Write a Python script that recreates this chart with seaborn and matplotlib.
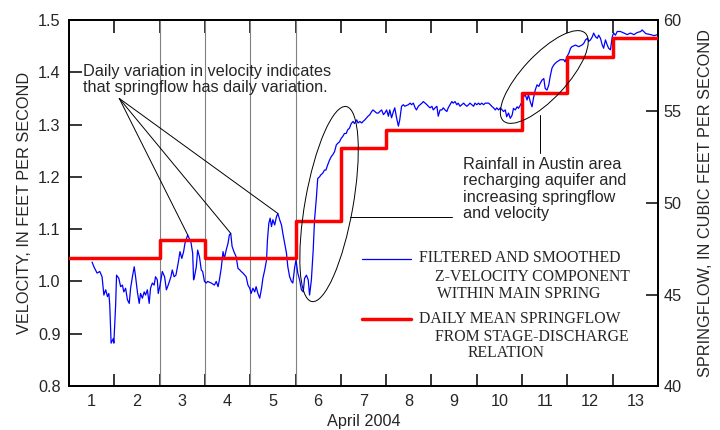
import numpy as np
import pandas as pd
import seaborn as sns
import matplotlib
matplotlib.use("Agg")
import matplotlib.pyplot as plt
from matplotlib.patches import Ellipse
from matplotlib.transforms import ScaledTranslation
from matplotlib.ticker import FormatStrFormatter, FixedLocator

# Data

# filtered z-velocity, day of April 2004 (decimal) and feet per second
vel_day = [
    1.01, 1.05, 1.12, 1.18, 1.23, 1.27, 1.31, 1.35, 1.38, 1.40, 1.43, 1.48, 1.49, 1.53, 1.55,
    1.60, 1.64, 1.68, 1.71, 1.75, 1.79, 1.83, 1.86, 1.90, 1.94, 1.97, 2.01, 2.05, 2.08, 2.12,
    2.16, 2.19, 2.23, 2.27, 2.30, 2.34, 2.38, 2.41, 2.45, 2.47, 2.51, 2.56, 2.61, 2.65, 2.69,
    2.75, 2.78, 2.82, 2.86, 2.91, 2.95, 2.99, 3.03, 3.06, 3.12, 3.15, 3.19, 3.23, 3.25, 3.27,
    3.31, 3.34, 3.38, 3.42, 3.45, 3.49, 3.53, 3.56, 3.64, 3.71, 3.75, 3.79, 3.82, 3.86, 3.90,
    3.93, 3.97, 4.01, 4.04, 4.07, 4.10, 4.14, 4.19, 4.23, 4.27, 4.30, 4.34, 4.38, 4.41, 4.45,
    4.49, 4.52, 4.56, 4.60, 4.63, 4.67, 4.71, 4.75, 4.78, 4.82, 4.86, 4.88, 4.91, 4.94, 4.97,
    5.00, 5.04, 5.08, 5.11, 5.15, 5.19, 5.22, 5.26, 5.30, 5.33, 5.37, 5.41, 5.44, 5.48, 5.51,
    5.55, 5.59, 5.63, 5.67, 5.70, 5.74, 5.78, 5.81, 5.85, 5.89, 5.92, 5.96, 5.99, 6.03, 6.06,
    6.10, 6.14, 6.17, 6.21, 6.25, 6.29, 6.32, 6.36, 6.40, 6.43, 6.47, 6.51, 6.54, 6.58, 6.62,
    6.65, 6.69, 6.73, 6.77, 6.80, 6.85, 6.88, 6.92, 6.96, 6.99, 7.03, 7.07, 7.10, 7.14, 7.18,
    7.21, 7.25, 7.29, 7.33, 7.36, 7.40, 7.44, 7.47, 7.51, 7.55, 7.58, 7.62, 7.66, 7.69, 7.73,
    7.77, 7.80, 7.84, 7.88, 7.91, 7.99, 8.03, 8.06, 8.10, 8.14, 8.17, 8.21, 8.25, 8.29, 8.32,
    8.36, 8.40, 8.43, 8.47, 8.51, 8.54, 8.58, 8.62, 8.65, 8.69, 8.73, 8.76, 8.80, 8.84, 8.87,
    8.91, 8.95, 8.98, 9.02, 9.06, 9.09, 9.13, 9.17, 9.21, 9.24, 9.28, 9.32, 9.35, 9.39, 9.43,
    9.46, 9.50, 9.54, 9.57, 9.61, 9.65, 9.69, 9.76, 9.80, 9.83, 9.87, 9.91, 9.94, 9.98, 10.02,
    10.06, 10.09, 10.13, 10.16, 10.20, 10.24, 10.28, 10.31, 10.35, 10.39, 10.42, 10.46, 10.50, 10.53, 10.57,
    10.61, 10.64, 10.68, 10.72, 10.75, 10.79, 10.83, 10.87, 10.90, 10.94, 10.98, 11.01, 11.05, 11.09, 11.12,
    11.16, 11.20, 11.23, 11.27, 11.34, 11.42, 11.45, 11.49, 11.53, 11.57, 11.60, 11.68, 11.75, 11.82, 11.86,
    11.90, 11.94, 11.97, 12.01, 12.05, 12.08, 12.12, 12.16, 12.19, 12.23, 12.27, 12.30, 12.34, 12.38, 12.41,
    12.45, 12.49, 12.52, 12.56, 12.60, 12.67, 12.75, 12.82, 12.89, 12.97, 13.04, 13.12, 13.15, 13.23, 13.34,
    13.41, 13.49,
]
vel_fps = [
    1.037, 1.028, 1.016, 1.019, 1.009, 0.974, 0.984, 0.971, 0.977, 0.955, 0.882, 0.891, 0.882, 0.955, 1.012,
    1.006, 0.990, 0.993, 0.980, 0.987, 0.965, 0.958, 0.987, 1.009, 1.028, 1.009, 0.980, 0.958, 0.977, 0.968,
    0.980, 0.974, 0.984, 0.958, 0.987, 0.997, 0.993, 1.009, 1.003, 0.977, 0.993, 1.019, 1.009, 0.984, 0.993,
    1.009, 1.022, 1.009, 1.012, 1.035, 1.057, 1.044, 1.057, 1.073, 1.089, 1.083, 1.076, 1.054, 1.003, 1.009,
    1.028, 1.060, 1.047, 1.022, 1.019, 1.000, 0.997, 1.000, 0.997, 0.993, 1.000, 0.990, 1.003, 1.025, 1.057,
    1.044, 1.060, 1.073, 1.089, 1.092, 1.067, 1.057, 1.047, 1.025, 1.022, 1.019, 1.016, 1.012, 1.009, 0.993,
    0.987, 0.977, 0.987, 0.980, 0.990, 0.977, 0.968, 0.987, 1.006, 1.022, 1.041, 1.079, 1.111, 1.121, 1.105,
    1.118, 1.108, 1.124, 1.130, 1.118, 1.108, 1.092, 1.073, 1.054, 1.028, 1.009, 1.000, 0.997, 1.026, 1.041,
    1.016, 1.003, 0.984, 0.980, 1.006, 1.012, 1.003, 0.974, 1.003, 1.060, 1.118, 1.160, 1.197, 1.200, 1.204,
    1.207, 1.213, 1.213, 1.223, 1.232, 1.239, 1.242, 1.248, 1.261, 1.264, 1.267, 1.274, 1.277, 1.283, 1.283,
    1.290, 1.293, 1.302, 1.306, 1.302, 1.309, 1.303, 1.306, 1.303, 1.306, 1.309, 1.313, 1.316, 1.319, 1.325,
    1.328, 1.325, 1.322, 1.322, 1.325, 1.328, 1.319, 1.322, 1.328, 1.316, 1.328, 1.313, 1.325, 1.332, 1.313,
    1.297, 1.309, 1.335, 1.338, 1.335, 1.338, 1.341, 1.338, 1.341, 1.332, 1.328, 1.335, 1.338, 1.341, 1.344,
    1.341, 1.338, 1.335, 1.332, 1.335, 1.328, 1.332, 1.335, 1.316, 1.328, 1.328, 1.332, 1.328, 1.325, 1.332,
    1.338, 1.344, 1.341, 1.344, 1.338, 1.341, 1.335, 1.338, 1.341, 1.338, 1.335, 1.338, 1.341, 1.338, 1.335,
    1.341, 1.338, 1.341, 1.338, 1.341, 1.338, 1.341, 1.341, 1.338, 1.335, 1.332, 1.328, 1.332, 1.328, 1.332,
    1.328, 1.325, 1.328, 1.315, 1.322, 1.312, 1.318, 1.331, 1.328, 1.334, 1.331, 1.337, 1.344, 1.353, 1.357,
    1.347, 1.357, 1.344, 1.334, 1.350, 1.366, 1.376, 1.373, 1.379, 1.385, 1.388, 1.369, 1.366, 1.376, 1.392,
    1.408, 1.414, 1.417, 1.420, 1.424, 1.424, 1.420, 1.430, 1.436, 1.446, 1.449, 1.452, 1.449, 1.452, 1.455,
    1.462, 1.465, 1.459, 1.462, 1.468, 1.475, 1.468, 1.465, 1.471, 1.465, 1.452, 1.446, 1.462, 1.452, 1.446,
    1.443, 1.468, 1.475, 1.471, 1.478, 1.478, 1.475, 1.472, 1.475, 1.472, 1.476, 1.478, 1.481, 1.474, 1.472,
    1.470, 1.472,
]

# daily mean springflow, cubic feet per second
flow_day = np.arange(1, 14)
flow_cfs = [47, 47, 48, 47, 47, 49, 53, 54, 54, 54, 56, 58, 59]

# days separated by thin vertical lines
marked_days = [2.5, 3.5, 4.5, 5.5]

# days whose velocity peaks the daily-variation note points at
note_days = [3, 4, 5]

# Figure

sns.set_style("white")
plt.rcParams['font.family'] = ['Liberation Sans', 'DejaVu Sans']

fig = plt.figure(figsize=(7.2, 4.3), dpi=100)
ax = fig.add_axes([0.0958, 0.1023, 0.8181, 0.8512])
ax2 = ax.twinx()

for d in marked_days:
    ax.axvline(d, color="#808080", lw=0.8, zorder=1)

vel = pd.DataFrame({"day": vel_day, "fps": vel_fps})
sns.lineplot(data=vel, x="day", y="fps", ax=ax, color="blue", lw=0.9,
             sort=False, estimator=None, zorder=3)

edges = np.append(flow_day - 0.5, flow_day[-1] + 0.5)
steps = np.append(flow_cfs, flow_cfs[-1])
sns.lineplot(x=edges, y=steps, ax=ax2, color="red", lw=2.5,
             drawstyle="steps-post", estimator=None, zorder=4)

# Axes

ax.set_xlim(0.5, 13.5)
ax.set_ylim(0.8, 1.5)
ax2.set_ylim(40, 60)

ax.xaxis.set_major_locator(FixedLocator(edges[1:-1]))
ax.xaxis.set_minor_locator(FixedLocator(flow_day))
ax.set_xticklabels([], minor=False)
ax.set_xticklabels([str(d) for d in flow_day], minor=True)
ax.set_yticks(np.arange(0.8, 1.51, 0.1))
ax.yaxis.set_major_formatter(FormatStrFormatter("%.1f"))
ax2.set_yticks(np.arange(40, 61, 5))

for a in (ax, ax2):
    for s in a.spines.values():
        s.set_linewidth(1.3)
        s.set_color("black")

ax.tick_params(axis="x", which="major", direction="in", length=9, width=1.3,
               top=True, bottom=True)
ax.tick_params(axis="x", which="minor", length=0, pad=6, labelsize=11.7)
ax.tick_params(axis="y", direction="in", length=9, width=1.3, pad=6,
               labelsize=11.7, right=False)
ax2.tick_params(axis="y", direction="in", length=9, width=1.3, pad=4,
                labelsize=11.7)

ax.set_xlabel("April 2004", fontsize=11.7, labelpad=3)
ax.set_ylabel("VELOCITY, IN FEET PER SECOND", fontsize=11.7, labelpad=4)
ax2.set_ylabel("SPRINGFLOW, IN CUBIC FEET PER SECOND", fontsize=11.7,
               labelpad=12)

# Notes

ax.text(0.80, 1.386,
        "Daily variation in velocity indicates\nthat springflow has daily variation.",
        fontsize=11.7, va="center", ha="left", linespacing=1.07)
for d in note_days:
    part = vel[(vel.day > d - 0.5) & (vel.day < d + 0.5)]
    peak = part.loc[part.fps.idxmax()]
    ax.annotate("", xy=(peak.day, peak.fps), xytext=(1.61, 1.350),
                arrowprops=dict(arrowstyle="-", lw=0.7, color="black",
                                shrinkA=0, shrinkB=0))

ax.text(9.20, 1.177,
        "Rainfall in Austin area\nrecharging aquifer and\nincreasing springflow\nand velocity",
        fontsize=11.7, va="center", ha="left", linespacing=1.12)
ax.plot([6.70, 8.95], [1.123, 1.123], color="black", lw=0.7)
ax.plot([10.90, 10.90], [1.318, 1.245], color="black", lw=0.7)


def ring(x, y, w, h, angle):
    tr = fig.dpi_scale_trans + ScaledTranslation(x, y, ax.transData)
    ax2.add_patch(Ellipse((0, 0), w, h, angle=angle, fill=False,
                          ec="black", lw=0.7, transform=tr, zorder=5))


ring(6.24, 1.148, 0.48, 1.98, -10)
ring(10.99, 1.391, 1.20, 0.44, 47)

# Legend, drawn by hand

serif = ["Liberation Serif", "DejaVu Serif"]
ax2.plot([0.497, 0.580], [0.346, 0.346], color="blue", lw=0.9,
         transform=ax2.transAxes)
ax2.plot([0.497, 0.580], [0.182, 0.182], color="red", lw=2.5,
         transform=ax2.transAxes)
legend_rows = [
    (0.595, 0.349, "FILTERED AND SMOOTHED"),
    (0.621, 0.299, "Z-VELOCITY COMPONENT"),
    (0.624, 0.251, "WITHIN MAIN SPRING"),
    (0.595, 0.182, "DAILY MEAN SPRINGFLOW"),
    (0.621, 0.135, "FROM STAGE-DISCHARGE"),
    (0.677, 0.090, "RELATION"),
]
for lx, ly, txt in legend_rows:
    ax2.text(lx, ly, txt, transform=ax2.transAxes, family=serif,
             fontsize=11.3, va="center", ha="left")

fig.savefig("out.png", dpi=100)
